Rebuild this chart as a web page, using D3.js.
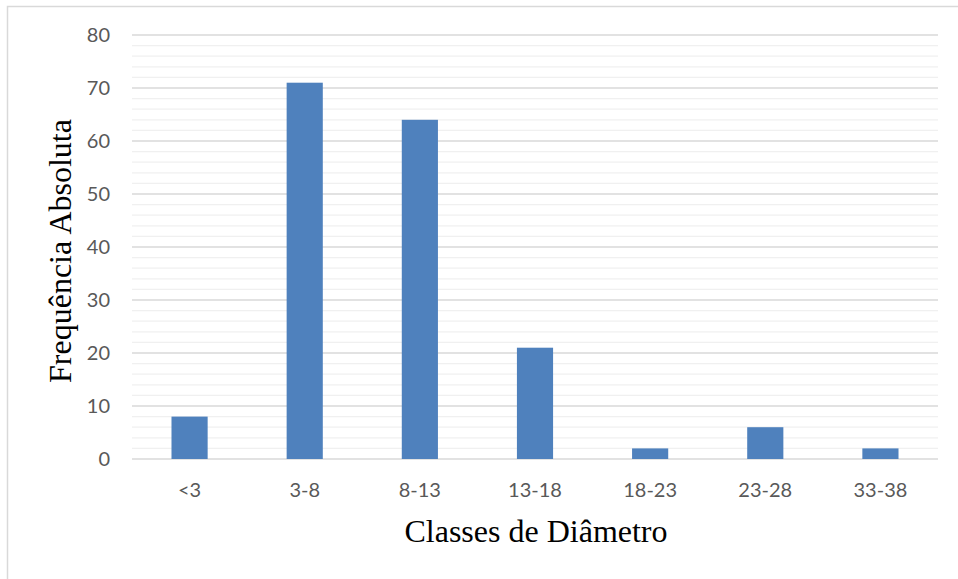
<!DOCTYPE html>
<html><head><meta charset="utf-8">
<script src="https://cdn.jsdelivr.net/npm/d3@7"></script>
<style>body{margin:0;background:#fff}svg{display:block}</style>
</head><body>
<script>
const categories = ["<3","3-8","8-13","13-18","18-23","23-28","33-38"];
const values = [8,71,64,21,2,6,2];
const yTicks = [0,10,20,30,40,50,60,70,80];
const minorTicks = d3.range(0,81,2).filter(v=>v%10!==0);

(function(){
const W=958,H=579;
const svg=d3.select("body").append("svg").attr("width",W).attr("height",H);
svg.append("rect").attr("width",W).attr("height",H).attr("fill","#fff");
svg.append("path").attr("d",`M7.5,${H} V6.5 H${W}`).attr("fill","none").attr("stroke","#d9d9d9").attr("stroke-width",1.5);

const pl=132,pr=938,pt=35,pb=459;
const x=d3.scaleBand().domain(categories).range([pl,pr]).paddingInner(0.686).paddingOuter(0.343);
const y=d3.scaleLinear().domain([0,80]).range([pb,pt]);

svg.append("g").selectAll("line").data(minorTicks).join("line")
 .attr("x1",pl).attr("x2",pr).attr("y1",d=>y(d)).attr("y2",d=>y(d))
 .attr("stroke","#f0f0f0").attr("stroke-width",1.3);
svg.append("g").selectAll("line").data(yTicks).join("line")
 .attr("x1",pl).attr("x2",pr).attr("y1",d=>y(d)).attr("y2",d=>y(d))
 .attr("stroke","#d9d9d9").attr("stroke-width",1.4);

svg.append("g").selectAll("rect").data(values).join("rect")
 .attr("x",(d,i)=>x(categories[i])).attr("width",x.bandwidth())
 .attr("y",d=>y(d)).attr("height",d=>y(0)-y(d)).attr("fill","#4f81bd");

svg.append("g").selectAll("text").data(yTicks).join("text")
 .attr("x",110).attr("y",d=>y(d)).attr("dy","0.35em").attr("text-anchor","end")
 .attr("font-family","Lato, 'Open Sans', sans-serif").attr("font-size",20).attr("fill","#595959").text(d=>d);

svg.append("g").selectAll("text").data(categories).join("text")
 .attr("x",d=>x(d)+x.bandwidth()/2).attr("y",490).attr("dy","0.35em").attr("text-anchor","middle")
 .attr("font-family","Lato, 'Open Sans', sans-serif").attr("font-size",20).attr("fill","#595959").text(d=>d);

svg.append("text").attr("x",536).attr("y",542).attr("text-anchor","middle")
 .attr("font-family","'Liberation Serif','Times New Roman',serif").attr("font-size",32).attr("fill","#000")
 .text("Classes de Diâmetro");
svg.append("text").attr("transform",`translate(71,251) rotate(-90)`).attr("text-anchor","middle")
 .attr("font-family","'Liberation Serif','Times New Roman',serif").attr("font-size",32).attr("fill","#000")
 .text("Frequência Absoluta");
})();
</script>
</body></html>
